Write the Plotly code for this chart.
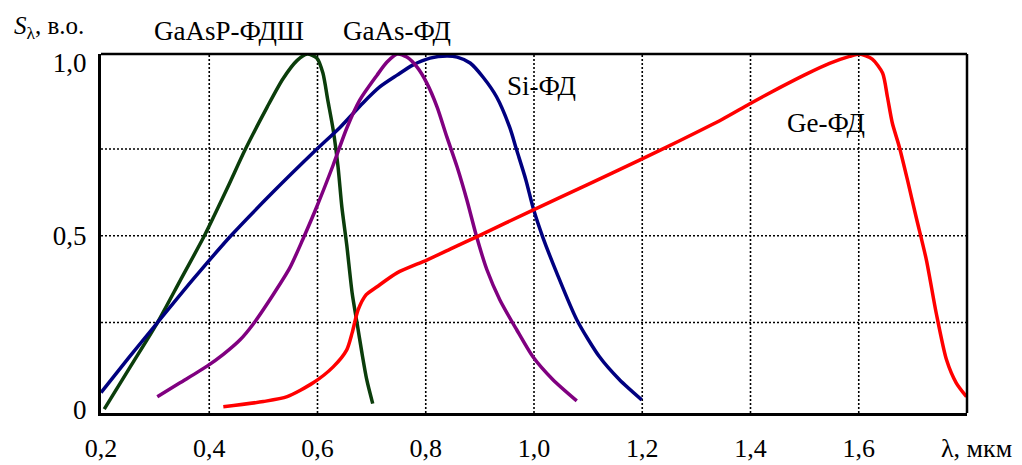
import plotly.graph_objects as go

# ---- data ----
wl_gaasp = [0.206, 0.254, 0.304, 0.346, 0.391, 0.433, 0.466, 0.507, 0.536, 0.562, 0.581,
            0.599, 0.610, 0.619, 0.629, 0.638, 0.645, 0.654, 0.664, 0.673, 0.682, 0.691, 0.702]
s_gaasp = [0.000, 0.122, 0.249, 0.370, 0.500, 0.636, 0.747, 0.871, 0.952, 1.005, 1.024,
           1.012, 0.969, 0.891, 0.805, 0.698, 0.583, 0.474, 0.335, 0.249, 0.163, 0.085, 0.016]

wl_si = [0.200, 0.251, 0.304, 0.370, 0.440, 0.516, 0.597, 0.642, 0.684, 0.715, 0.747, 0.776,
         0.808, 0.839, 0.858, 0.882, 0.906, 0.931, 0.955, 0.968, 0.985, 0.999, 1.016, 1.042,
         1.079, 1.121, 1.158, 1.199]
s_si = [0.048, 0.148, 0.249, 0.374, 0.500, 0.623, 0.747, 0.813, 0.883, 0.929, 0.963, 0.992,
        1.012, 1.018, 1.015, 0.998, 0.957, 0.900, 0.813, 0.747, 0.661, 0.577, 0.497, 0.393,
        0.258, 0.151, 0.085, 0.027]

wl_gaas = [0.304, 0.346, 0.396, 0.426, 0.457, 0.481, 0.518, 0.549, 0.573, 0.599, 0.629, 0.654,
           0.678, 0.710, 0.728, 0.747, 0.765, 0.784, 0.802, 0.821, 0.839, 0.858, 0.876, 0.894,
           0.913, 0.937, 0.968, 0.998, 1.035, 1.079]
s_gaas = [0.036, 0.076, 0.124, 0.158, 0.200, 0.245, 0.330, 0.408, 0.490, 0.585, 0.704, 0.810,
          0.891, 0.963, 1.000, 1.024, 1.015, 0.986, 0.940, 0.871, 0.785, 0.698, 0.603, 0.497,
          0.402, 0.315, 0.229, 0.151, 0.085, 0.024]

wl_ge = [0.426, 0.500, 0.544, 0.592, 0.629, 0.654, 0.664, 0.675, 0.690, 0.710, 0.747, 0.802,
         0.850, 0.894, 0.998, 1.097, 1.195, 1.269, 1.348, 1.398, 1.454, 1.503, 1.546, 1.583,
         1.601, 1.625, 1.644, 1.653, 1.662, 1.675, 1.690, 1.706, 1.725, 1.743, 1.762, 1.780, 1.799]
s_ge = [0.007, 0.022, 0.036, 0.076, 0.122, 0.171, 0.220, 0.286, 0.330, 0.353, 0.393, 0.430,
        0.465, 0.497, 0.574, 0.646, 0.718, 0.774, 0.836, 0.880, 0.927, 0.966, 0.997, 1.017,
        1.024, 1.009, 0.969, 0.900, 0.825, 0.756, 0.661, 0.554, 0.430, 0.278, 0.143, 0.076, 0.036]

x_ticks = [0.2, 0.4, 0.6, 0.8, 1.0, 1.2, 1.4, 1.6]
x_tick_text = ["0,2", "0,4", "0,6", "0,8", "1,0", "1,2", "1,4", "1,6"]
y_ticks = [0, 0.5, 1.0]
y_tick_text = ["0", "0,5", "1,0"]
y_grid = [0.25, 0.5, 0.75]

series = [
    ("GaAsP-ФДШ", wl_gaasp, s_gaasp, "#0b3d0b"),
    ("Si-ФД", wl_si, s_si, "#000080"),
    ("GaAs-ФД", wl_gaas, s_gaas, "#800080"),
    ("Ge-ФД", wl_ge, s_ge, "#ff0000"),
]

FONT = "Liberation Serif"
X0, X1 = 0.2, 1.8
Y0, Y1 = -0.011, 1.024

fig = go.Figure()
for name, xs, ys, col in series:
    fig.add_trace(go.Scatter(x=xs, y=ys, mode="lines", name=name,
                             line=dict(color=col, width=3.5, shape="spline", smoothing=0.7),
                             hoverinfo="x+y+name"))

shapes = []
for xv in x_ticks[1:]:
    shapes.append(dict(type="line", xref="x", yref="y", x0=xv, x1=xv, y0=Y0, y1=Y1,
                       line=dict(color="black", width=1.6, dash="2px,2px"), layer="below"))
for yv in y_grid:
    shapes.append(dict(type="line", xref="x", yref="y", x0=X0, x1=X1, y0=yv, y1=yv,
                       line=dict(color="black", width=1.6, dash="2px,2px"), layer="below"))
# top and right frame
shapes.append(dict(type="line", xref="paper", yref="paper", x0=0, x1=1, y0=1, y1=1,
                   line=dict(color="black", width=2.5), layer="above"))
shapes.append(dict(type="line", xref="paper", yref="paper", x0=1, x1=1, y0=0, y1=1,
                   line=dict(color="black", width=2.5), layer="above"))

annotations = [
    dict(xref="paper", yref="paper", x=0.148, y=1.064, text="GaAsP-ФДШ", size=27),
    dict(xref="paper", yref="paper", x=0.342, y=1.064, text="GaAs-ФД", size=27),
    dict(xref="x", yref="y", x=1.014, y=0.931, text="Si-ФД", size=27),
    dict(xref="x", yref="y", x=1.540, y=0.825, text="Ge-ФД", size=27),
    dict(xref="paper", yref="paper", x=1.0115, y=-0.098, text="λ, мкм", size=26),
    dict(xref="paper", yref="paper", x=-0.060, y=1.075, text="<i>S</i><sub>λ</sub>, в.о.", size=25),
]
annotations = [dict(showarrow=False, xanchor="center", yanchor="middle",
                    font=dict(family=FONT, size=a.pop("size"), color="black"), **a)
               for a in annotations]

# the page body adds an 8px margin; compensate so the plot area sits where the reference's does
fig.update_layout(
    width=1014, height=457,
    margin=dict(l=93, r=55, t=46, b=52, autoexpand=False),
    paper_bgcolor="white", plot_bgcolor="white",
    showlegend=False,
    shapes=shapes,
    annotations=annotations,
    font=dict(family=FONT, size=26, color="black"),
    xaxis=dict(range=[X0, X1], tickvals=x_ticks, ticktext=x_tick_text, showgrid=False,
               zeroline=False, showline=True, linecolor="black", linewidth=3, automargin=False,
               ticks="", ticklabelstandoff=10, tickfont=dict(family=FONT, size=26)),
    yaxis=dict(range=[Y0, Y1], tickvals=y_ticks, ticktext=y_tick_text, showgrid=False,
               zeroline=False, showline=True, linecolor="black", linewidth=3, automargin=False,
               ticks="", ticklabelstandoff=6, tickfont=dict(family=FONT, size=27)),
)

fig.write_html("out.html")
